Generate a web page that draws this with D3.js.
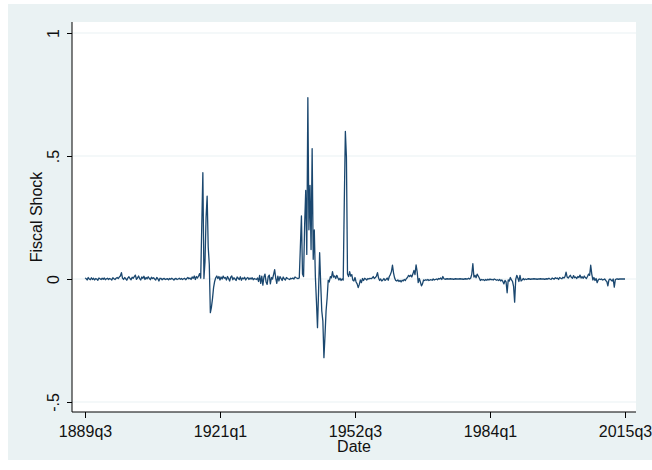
<html>
<head>
	<script src="https://d3js.org/d3.v7.min.js"></script>
	<style>
		body { margin: 0; background: #ffffff; }
		text { font-family: "Liberation Sans", Arial, sans-serif; }
	</style>
</head>
<body>
	<script>
		// quarterly fiscal shock series, 1889q3 .. 2015q3
		var startQuarter = "1889q3";

		var shockPreWar = [
			0.004, 0.002, -0.004, 0.006, 0.000, -0.003, 0.005, -0.002, 0.003, -0.004,
			0.002, 0.000, -0.005, 0.004, 0.001, -0.002, 0.003, -0.001, 0.004, -0.003,
			0.001, 0.003, -0.002, 0.002, 0.000, -0.004, 0.005, 0.001, -0.002, 0.003,
			0.006, 0.002, 0.008, 0.012, 0.026, 0.004, -0.002, 0.006, 0.001, -0.005,
			0.004, 0.009, 0.002, -0.003, 0.007, 0.003, 0.010, 0.016, -0.001, 0.004,
			0.012, 0.002, -0.004, 0.008, 0.003, 0.011, -0.002, 0.006, 0.001, 0.009,
			0.003, -0.003, 0.007, 0.002, 0.005, 0.000, -0.004, 0.006, 0.001, -0.008,
			0.003, 0.002, -0.003, 0.001, 0.002, -0.002, 0.000, 0.001, -0.003, 0.002,
			-0.001, 0.003, 0.000, -0.004, 0.001, 0.002, -0.002, 0.000, 0.003, -0.001,
			0.002, -0.002, 0.001, 0.003, -0.003, 0.002, 0.006, 0.001, 0.004, -0.002,
			0.008, 0.003, 0.012, -0.002, 0.010, 0.004
		];

		var shockWW1 = [
			0.012, 0.022, 0.004, 0.220, 0.432, 0.002, 0.070, 0.250, 0.337, 0.130,
			0.060, -0.137, -0.115, -0.080, -0.035, -0.010, 0.005, 0.012, 0.002, 0.010,
			-0.004, 0.008, 0.000, 0.012, 0.003
		];

		var shockInterwar = [
			0.006, -0.004, 0.010, 0.002, -0.008, 0.007, 0.012, -0.003, 0.005, 0.000,
			-0.006, 0.008, 0.003, -0.002, 0.009, -0.005, 0.004, 0.001, 0.007, -0.004,
			0.003, 0.006, -0.002, 0.004, 0.000, 0.005, -0.003, 0.002, 0.000, -0.002,
			0.004, -0.010, 0.015, -0.018, 0.012, -0.025, 0.008, 0.020, -0.012, -0.022,
			0.010, 0.016, -0.020, 0.006, 0.000, 0.018, 0.038, 0.004, -0.018, 0.012,
			-0.008, 0.010, 0.002, -0.006, 0.008, 0.000, -0.004, 0.006, 0.002, 0.000,
			-0.002, 0.003, 0.001, 0.004, 0.000, 0.008, 0.005, 0.003, 0.002
		];

		var shockWW2 = [
			0.004, 0.130, 0.256, 0.020, 0.010, 0.220, 0.360, 0.100, 0.737, 0.200,
			0.380, 0.120, 0.530, 0.080, 0.200, 0.010, -0.090, -0.198, -0.050, 0.107,
			-0.020, -0.130, -0.170, -0.320, -0.230, -0.130, -0.076, -0.005, -0.012, 0.010,
			0.005
		];

		var shockKorea = [
			0.030, 0.008, 0.012, 0.002, 0.015, 0.005, -0.004, 0.003, -0.006, 0.000,
			-0.004, 0.310, 0.600, 0.495, 0.020, 0.010, 0.030, 0.012, 0.018, -0.005
		];

		var shockPostWar = [
			-0.008, 0.006, -0.012, -0.020, -0.035, -0.022, -0.004, -0.015, 0.002, -0.006,
			0.003, 0.000, -0.004, 0.002, 0.000, 0.003, 0.001, 0.004, 0.010, 0.002,
			0.006, 0.012, 0.026, 0.004, -0.006, 0.000, -0.008, -0.004, 0.002, -0.006,
			-0.002, 0.004, -0.005, 0.010, 0.018, 0.030, 0.056, 0.024, 0.004, -0.006,
			-0.008, -0.004, -0.010, -0.006, -0.012, -0.005, -0.008, -0.002, -0.006, 0.002,
			0.006, 0.015, 0.010, 0.016, 0.008, 0.020, 0.035, 0.018, 0.057, 0.030,
			-0.015, 0.002, -0.012, -0.028, -0.020, -0.004, -0.006, -0.003, -0.005, -0.002,
			-0.006, -0.004, -0.003, -0.005, 0.000, -0.004, -0.002, 0.000, -0.003, 0.002,
			0.000, 0.004, -0.002, 0.010, 0.001, -0.001, 0.000, 0.001, 0.000, 0.000,
			0.001, 0.000, 0.000, -0.001, 0.000, 0.001, 0.000, 0.000, 0.000, 0.001,
			0.000, 0.000, -0.001, 0.000, 0.001, 0.000, 0.000, 0.003, 0.000, 0.004,
			0.020, 0.062, 0.008, 0.015, 0.005, 0.020, 0.012, 0.004, -0.006, -0.002,
			-0.004, -0.003, -0.006, -0.002, -0.005, -0.001, -0.004, 0.000, -0.003, -0.002,
			-0.004, 0.000, -0.002, -0.005, -0.003, -0.006, -0.002, -0.008, -0.004, -0.010,
			-0.020, -0.006, -0.012, -0.056, -0.004, -0.008, 0.006, -0.004, -0.010, -0.030,
			-0.094, -0.002, 0.015, 0.004, -0.010, 0.015, -0.008, -0.004, 0.002, -0.003,
			0.000, -0.002, 0.000, 0.001, 0.000, -0.001, 0.000, 0.000, 0.001, 0.000,
			0.000, -0.001, 0.000, 0.000, 0.001, 0.000, 0.000, 0.000, -0.001, 0.000,
			0.001, 0.000, 0.003, 0.000, -0.002, 0.004, 0.001, 0.000, 0.005, 0.002,
			0.004, -0.002, 0.006, 0.003, 0.001, 0.007, 0.004, 0.010, 0.028, 0.008,
			0.004, 0.010, 0.015, 0.006, 0.003, 0.014, 0.005, 0.008, 0.002, 0.010,
			0.006, 0.016, 0.004, 0.009, 0.003, 0.012, 0.006, 0.002, 0.010, 0.020,
			0.015, 0.056, 0.020, -0.004, 0.006, -0.006, 0.002, -0.015, -0.004, 0.000,
			-0.002, 0.000, -0.004, -0.003, 0.000, -0.006, -0.010, -0.028, -0.004, 0.000,
			-0.004, -0.008, 0.000, -0.033, -0.002, 0.000, 0.000, -0.001, 0.000, 0.000,
			0.000, 0.000, 0.000, 0.000
		];

		var xTickLabels = ["1889q3", "1921q1", "1952q3", "1984q1", "2015q3"];
		var yTickValues = [-0.5, 0, 0.5, 1];
		var yTickLabels = ["-.5", "0", ".5", "1"];

		var outerWidth = 652;
		var outerHeight = 470;
		var margin = { left: 72, top: 22, right: 16, bottom: 58 };
		var innerWidth = outerWidth - margin.left - margin.right;
		var innerHeight = outerHeight - margin.top - margin.bottom;

		var lineColor = "#1a476f";
		var bgColor = "#eaf2f3";

		function quarterIndex(s) {
			var year = +s.slice(0, 4), q = +s.slice(5);
			return year * 4 + q - 1;
		}
		var q0 = quarterIndex(startQuarter);

		var values = [].concat(shockPreWar, shockWW1, shockInterwar, shockWW2, shockKorea, shockPostWar);
		var data = values.map(function(v, i) { return { t: i, shock: v }; });

		var svg = d3.select("body").append("svg")
			.attr("width", outerWidth)
			.attr("height", outerHeight);

		// outer graph region
		svg.append("rect")
			.attr("x", 8).attr("y", 4)
			.attr("width", outerWidth - 8).attr("height", 456)
			.attr("fill", bgColor);

		var g = svg.append("g")
			.attr("transform", "translate(" + margin.left + "," + margin.top + ")");

		g.append("rect")
			.attr("width", innerWidth).attr("height", innerHeight)
			.attr("fill", "#ffffff");

		var xScale = d3.scaleLinear()
			.domain([0, data.length - 1])
			.range([13, 553]);
		var yScale = d3.scaleLinear()
			.domain([-0.5, 1])
			.range([380, 11]);

		// grid
		g.selectAll(".grid").data(yTickValues)
			.enter().append("line")
			.attr("class", "grid")
			.attr("x1", 0).attr("x2", innerWidth)
			.attr("y1", function(d) { return yScale(d); })
			.attr("y2", function(d) { return yScale(d); })
			.attr("stroke", bgColor)
			.attr("stroke-width", 1.2);

		var line = d3.line()
			.x(function(d) { return xScale(d.t); })
			.y(function(d) { return yScale(d.shock); });

		g.append("path")
			.datum(data)
			.attr("d", line)
			.attr("fill", "none")
			.attr("stroke", lineColor)
			.attr("stroke-width", 1.3)
			.attr("stroke-linejoin", "round");

		// axes
		var xAxis = d3.axisBottom(xScale)
			.tickValues(xTickLabels.map(function(s) { return quarterIndex(s) - q0; }))
			.tickFormat(function(d, i) { return xTickLabels[i]; })
			.tickSizeInner(6).tickSizeOuter(0).tickPadding(9);

		var yAxis = d3.axisLeft(yScale)
			.tickValues(yTickValues)
			.tickFormat(function(d, i) { return yTickLabels[i]; })
			.tickSizeInner(5).tickSizeOuter(0);

		var xAxisG = g.append("g")
			.attr("transform", "translate(0," + innerHeight + ")")
			.call(xAxis);
		xAxisG.select(".domain").attr("d", "M0,0H" + innerWidth).attr("stroke", "#000");
		xAxisG.selectAll(".tick line").attr("stroke", "#000");
		xAxisG.selectAll("text")
			.attr("font-size", 16)
			.attr("fill", "#111")
			.attr("dy", null)
			.attr("y", 25);

		var yAxisG = g.append("g").call(yAxis);
		yAxisG.select(".domain").attr("d", "M0,0V" + innerHeight).attr("stroke", "#000");
		yAxisG.selectAll(".tick line").attr("stroke", "#000");
		yAxisG.selectAll("text")
			.attr("font-size", 16)
			.attr("fill", "#111")
			.attr("x", null).attr("dy", null)
			.attr("text-anchor", "middle")
			.attr("transform", "translate(-13,0) rotate(-90)");

		// axis titles
		svg.append("text")
			.attr("x", margin.left + innerWidth / 2)
			.attr("y", 451.5)
			.attr("text-anchor", "middle")
			.attr("font-size", 16)
			.attr("fill", "#111")
			.text("Date");

		svg.append("text")
			.attr("transform", "translate(41.5," + (margin.top + innerHeight / 2) + ") rotate(-90)")
			.attr("text-anchor", "middle")
			.attr("font-size", 16)
			.attr("fill", "#111")
			.text("Fiscal Shock");
	</script>
</body>
</html>
